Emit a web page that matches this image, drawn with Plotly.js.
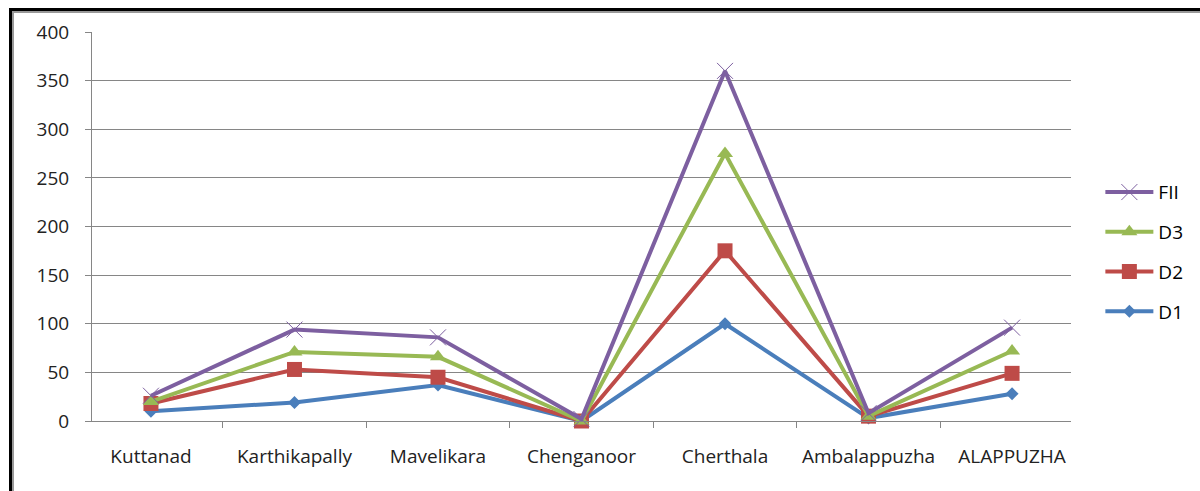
<!DOCTYPE html>
<html>
<head>
<meta charset="utf-8">
<script src="https://cdn.plot.ly/plotly-3.0.1.min.js"></script>
<style>
html,body{margin:0;padding:0;background:#fff;overflow:hidden;}
#chart{position:absolute;left:0;top:0;width:1200px;height:491px;}
#frame{position:absolute;left:9px;top:8px;width:1300px;height:600px;border-left:3px solid #000;border-top:3px solid #000;pointer-events:none;}
#frame2{position:absolute;left:12px;top:11px;width:1300px;height:600px;border-left:2px solid #999;border-top:2px solid #999;pointer-events:none;}
</style>
</head>
<body>
<div id="chart"></div>
<div id="frame"></div>
<div id="frame2"></div>
<script>
var categories = ["Kuttanad","Karthikapally","Mavelikara","Chenganoor","Cherthala","Ambalappuzha","ALAPPUZHA"];
var D1  = [10, 19, 37, 0, 100, 3, 28];
var D2  = [18, 53, 45, 0, 175, 5, 49];
var D3  = [20, 71, 66, 0, 275, 5, 72];
var FII = [26, 94, 86, 2, 360, 8, 96];
var yTicks = [0,50,100,150,200,250,300,350,400];

function tr(name, y, color, symbol, size, lw, rank) {
  return {
    type: 'scatter', mode: 'lines+markers', name: name, x: categories, y: y,
    legendgroup: name, legendrank: rank,
    line: {color: color, width: 4},
    marker: {symbol: symbol, size: size, color: color, line: {color: color, width: lw}},
    cliponaxis: false
  };
}
var data = [
  tr('D1', D1, '#4A7EBB', 'diamond', 10, 0, 4),
  tr('D2', D2, '#BE4B48', 'square', 15, 0, 3),
  tr('D3', D3, '#98B954', 'triangle-up', 14, 0, 2),
  tr('FII', FII, '#7D5FA0', 'x-thin-open', 16, 1, 1)
];
var font = {family: '"Open Sans", Lato, sans-serif', size: 19, color: '#222'};
var layout = {
  width: 1200, height: 491,
  margin: {l: 92, r: 129, t: 32, b: 70},
  paper_bgcolor: '#fff', plot_bgcolor: '#fff',
  font: font,
  showlegend: true,
  legend: {x: 1.03, xanchor: 'left', y: 0.637, yanchor: 'top',
           traceorder: 'grouped', tracegroupgap: 12,
           font: {family: '"Open Sans", Lato, sans-serif', size: 19, color: '#000'},
           itemwidth: 48, bgcolor: 'rgba(0,0,0,0)'},
  xaxis: {type: 'category', tickson: 'boundaries', ticks: 'outside', ticklen: 6,
          tickcolor: '#868686', showline: true, linecolor: '#868686', linewidth: 1,
          showgrid: false, zeroline: false, ticklabelstandoff: 18, fixedrange: true},
  yaxis: {range: [0, 400], tickvals: yTicks, ticktext: yTicks.map(String),
          ticks: 'outside', ticklen: 6, tickcolor: '#868686',
          showline: true, linecolor: '#868686', linewidth: 1,
          showgrid: true, gridcolor: '#868686', gridwidth: 1, zeroline: false,
          ticklabelstandoff: 12, fixedrange: true}
};
Plotly.newPlot('chart', data, layout, {displayModeBar: false, staticPlot: true});
</script>
</body>
</html>
